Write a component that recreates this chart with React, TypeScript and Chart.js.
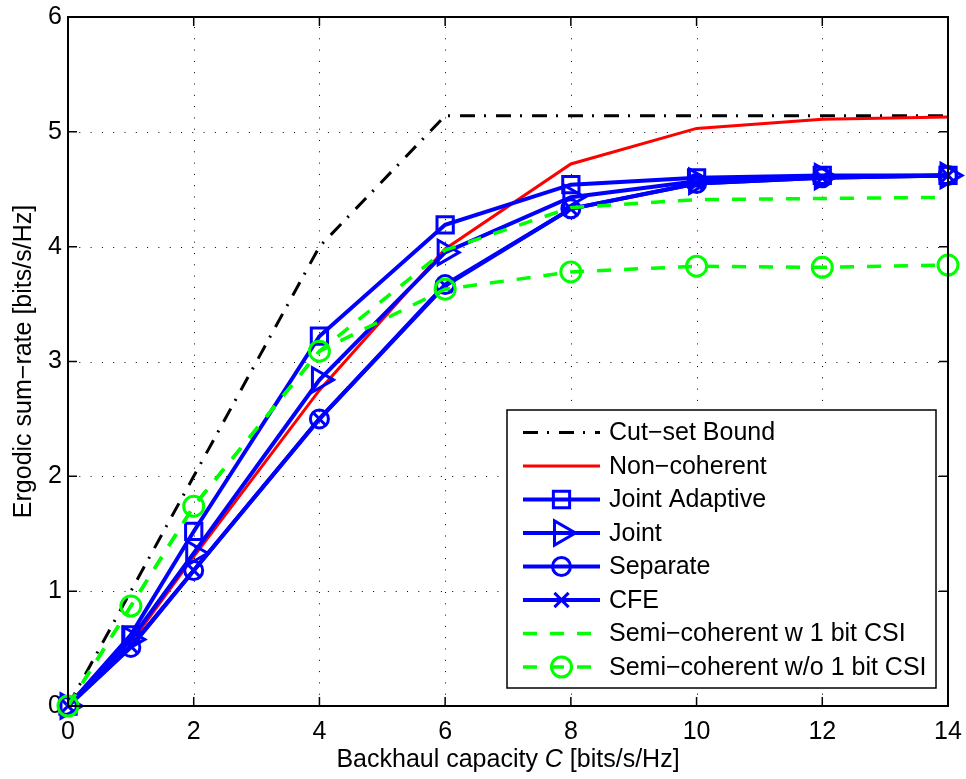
import React, { useEffect, useRef } from 'react';
import { Chart, registerables } from 'chart.js';

Chart.register(...registerables);

// ---------- data ----------
const backhaulC = [0, 1, 2, 4, 6, 8, 10, 12, 14];
const cutSetBound = [0, 1.0, 2.0, 4.0, 5.14, 5.14, 5.14, 5.14, 5.14];
const nonCoherent = [0, 0.55, 1.3, 2.75, 3.98, 4.72, 5.03, 5.11, 5.13];
const jointAdaptive = [0, 0.62, 1.52, 3.22, 4.19, 4.54, 4.6, 4.62, 4.62];
const joint = [0, 0.58, 1.33, 2.84, 3.95, 4.43, 4.57, 4.61, 4.62];
const separate = [0, 0.51, 1.18, 2.5, 3.67, 4.33, 4.55, 4.6, 4.62];
const cfe = [0, 0.52, 1.18, 2.5, 3.66, 4.33, 4.55, 4.6, 4.62];
const semiCoherentW = [0, 0.87, 1.74, 3.09, 3.97, 4.34, 4.41, 4.42, 4.43];
const semiCoherentWo = [0, 0.87, 1.74, 3.09, 3.63, 3.78, 3.83, 3.82, 3.84];

const xTicks = [0, 2, 4, 6, 8, 10, 12, 14];
const yTicks = [0, 1, 2, 3, 4, 5, 6];

const seriesLabels = [
  'Cut\u2212set Bound',
  'Non\u2212coherent',
  'Joint Adaptive',
  'Joint',
  'Separate',
  'CFE',
  'Semi\u2212coherent w 1 bit CSI',
  'Semi\u2212coherent w/o 1 bit CSI',
];
const yTitle = 'Ergodic sum\u2212rate [bits/s/Hz]';
const xTitleParts = ['Backhaul capacity ', 'C', ' [bits/s/Hz]'];

const FONT = '"Liberation Sans", Arial, Helvetica, sans-serif';

type Sty = {
  color: string;
  width: number;
  dash: number[];
  marker: string | false;
  radius: number;
  rotation: number;
};

const styles: Sty[] = [
  { color: '#000000', width: 3, dash: [15, 9, 2, 10], marker: false, radius: 0, rotation: 0 },
  { color: '#ff0000', width: 3, dash: [], marker: false, radius: 0, rotation: 0 },
  { color: '#0000ff', width: 4, dash: [], marker: 'rect', radius: 11.5, rotation: 0 },
  { color: '#0000ff', width: 4, dash: [], marker: 'triangle', radius: 14, rotation: 90 },
  { color: '#0000ff', width: 4, dash: [], marker: 'circle', radius: 9, rotation: 0 },
  { color: '#0000ff', width: 4, dash: [], marker: 'crossRot', radius: 10, rotation: 0 },
  { color: '#00ff00', width: 3.5, dash: [14, 13], marker: false, radius: 0, rotation: 0 },
  { color: '#00ff00', width: 3.5, dash: [14, 13], marker: 'circle', radius: 10, rotation: 0 },
];

const seriesValues = [
  cutSetBound,
  nonCoherent,
  jointAdaptive,
  joint,
  separate,
  cfe,
  semiCoherentW,
  semiCoherentWo,
];

function drawMarker(
  ctx: CanvasRenderingContext2D,
  kind: string,
  x: number,
  y: number,
  r: number,
  rotationDeg: number,
) {
  ctx.beginPath();
  if (kind === 'rect') {
    const s = r * Math.SQRT1_2;
    ctx.rect(x - s, y - s, 2 * s, 2 * s);
  } else if (kind === 'circle') {
    ctx.arc(x, y, r, 0, Math.PI * 2);
  } else if (kind === 'triangle') {
    let rad = (rotationDeg * Math.PI) / 180;
    ctx.moveTo(x + Math.sin(rad) * r, y - Math.cos(rad) * r);
    rad += (2 * Math.PI) / 3;
    ctx.lineTo(x + Math.sin(rad) * r, y - Math.cos(rad) * r);
    rad += (2 * Math.PI) / 3;
    ctx.lineTo(x + Math.sin(rad) * r, y - Math.cos(rad) * r);
    ctx.closePath();
  } else if (kind === 'crossRot') {
    const o = r * Math.SQRT1_2;
    ctx.moveTo(x - o, y - o);
    ctx.lineTo(x + o, y + o);
    ctx.moveTo(x + o, y - o);
    ctx.lineTo(x - o, y + o);
  }
  ctx.stroke();
}

const matlabPlugin = {
  id: 'matlabAxes',
  beforeDatasetsDraw(chart: any) {
    const ctx: CanvasRenderingContext2D = chart.ctx;
    const { left, right, top, bottom } = chart.chartArea;
    const xs = chart.scales.x;
    const ys = chart.scales.y;
    ctx.save();
    ctx.strokeStyle = '#000';
    ctx.lineWidth = 1;
    ctx.setLineDash([1, 10.3]);
    xTicks.forEach((v) => {
      const px = Math.round(xs.getPixelForValue(v)) + 0.5;
      if (v === xTicks[0] || v === xTicks[xTicks.length - 1]) return;
      ctx.beginPath();
      ctx.moveTo(px, bottom);
      ctx.lineTo(px, top);
      ctx.stroke();
    });
    yTicks.forEach((v) => {
      const py = Math.round(ys.getPixelForValue(v)) + 0.5;
      if (v === yTicks[0] || v === yTicks[yTicks.length - 1]) return;
      ctx.beginPath();
      ctx.moveTo(left, py);
      ctx.lineTo(right, py);
      ctx.stroke();
    });
    ctx.restore();
  },
  afterDraw(chart: any) {
    const ctx: CanvasRenderingContext2D = chart.ctx;
    const { left, right, top, bottom } = chart.chartArea;
    const xs = chart.scales.x;
    const ys = chart.scales.y;
    ctx.save();
    ctx.setLineDash([]);
    ctx.strokeStyle = '#000';
    // inward ticks
    ctx.lineWidth = 1.5;
    const tl = 9;
    xTicks.forEach((v) => {
      const px = xs.getPixelForValue(v);
      ctx.beginPath();
      ctx.moveTo(px, bottom);
      ctx.lineTo(px, bottom - tl);
      ctx.moveTo(px, top);
      ctx.lineTo(px, top + tl);
      ctx.stroke();
    });
    yTicks.forEach((v) => {
      const py = ys.getPixelForValue(v);
      ctx.beginPath();
      ctx.moveTo(left, py);
      ctx.lineTo(left + tl, py);
      ctx.moveTo(right, py);
      ctx.lineTo(right - tl, py);
      ctx.stroke();
    });
    // box
    ctx.lineWidth = 2;
    ctx.strokeRect(left, top, right - left, bottom - top);

    // axis titles
    ctx.fillStyle = '#000';
    ctx.font = `25px ${FONT}`;
    ctx.save();
    ctx.translate(31, (top + bottom) / 2);
    ctx.rotate(-Math.PI / 2);
    ctx.textAlign = 'center';
    ctx.textBaseline = 'alphabetic';
    ctx.fillText(yTitle, 0, 0);
    ctx.restore();

    const normal = `25px ${FONT}`;
    const italic = `italic 25px ${FONT}`;
    const fonts = [normal, italic, normal];
    let total = 0;
    const widths = xTitleParts.map((t, i) => {
      ctx.font = fonts[i];
      const w = ctx.measureText(t).width;
      total += w;
      return w;
    });
    let cx = (left + right) / 2 - total / 2;
    ctx.textAlign = 'left';
    ctx.textBaseline = 'alphabetic';
    xTitleParts.forEach((t, i) => {
      ctx.font = fonts[i];
      ctx.fillText(t, cx, 767);
      cx += widths[i];
    });

    // legend
    const lx0 = 507;
    const ly0 = 410;
    const lx1 = 936;
    const ly1 = 688;
    ctx.fillStyle = '#fff';
    ctx.fillRect(lx0, ly0, lx1 - lx0, ly1 - ly0);
    ctx.lineWidth = 1.5;
    ctx.strokeStyle = '#000';
    ctx.strokeRect(lx0, ly0, lx1 - lx0, ly1 - ly0);
    const rowH = 33.5;
    const firstY = 432.5;
    const sx0 = 523;
    const sx1 = 600;
    const mx = (sx0 + sx1) / 2;
    seriesLabels.forEach((label, i) => {
      const st = styles[i];
      const y = firstY + i * rowH;
      ctx.save();
      ctx.strokeStyle = st.color;
      ctx.lineWidth = st.width;
      ctx.setLineDash(st.dash);
      ctx.beginPath();
      ctx.moveTo(sx0, y);
      ctx.lineTo(sx1, y);
      ctx.stroke();
      ctx.setLineDash([]);
      if (st.marker) {
        ctx.lineWidth = 3;
        drawMarker(ctx, st.marker, mx, y, st.radius, st.rotation);
      }
      ctx.restore();
      ctx.fillStyle = '#000';
      ctx.font = `25px ${FONT}`;
      ctx.textAlign = 'left';
      ctx.textBaseline = 'middle';
      ctx.fillText(label, 609, y + 1);
    });
    ctx.restore();
  },
};

export default function App() {
  const canvasRef = useRef<HTMLCanvasElement | null>(null);

  useEffect(() => {
    const canvas = canvasRef.current;
    if (!canvas) return;
    const datasets = seriesValues.map((vals, i) => {
      const st = styles[i];
      return {
        label: seriesLabels[i],
        data: vals.map((v, j) => ({ x: backhaulC[j], y: v })),
        borderColor: st.color,
        backgroundColor: 'rgba(0,0,0,0)',
        borderWidth: st.width,
        borderDash: st.dash,
        pointStyle: st.marker || 'circle',
        pointRadius: st.marker ? st.radius : 0,
        pointHoverRadius: st.marker ? st.radius : 0,
        pointRotation: st.rotation,
        pointBorderColor: st.color,
        pointBackgroundColor: 'rgba(0,0,0,0)',
        pointBorderWidth: 3,
        tension: 0,
        fill: false,
        clip: false as any,
        order: seriesValues.length - i,
      };
    });

    const chart = new Chart(canvas, {
      type: 'line',
      data: { datasets },
      options: {
        responsive: false,
        animation: false,
        devicePixelRatio: 1,
        layout: { padding: { left: 0, right: 18, top: 13, bottom: 0 } },
        plugins: {
          legend: { display: false },
          tooltip: { enabled: false },
          title: { display: false },
        },
        scales: {
          x: {
            type: 'linear',
            min: 0,
            max: 14,
            afterBuildTicks: (scale: any) => {
              scale.ticks = xTicks.map((v) => ({ value: v }));
            },
            afterFit: (scale: any) => {
              scale.height = 73;
              scale.paddingLeft = 0;
              scale.paddingRight = 0;
            },
            grid: { display: false, drawTicks: false },
            border: { display: false },
            ticks: {
              color: '#000',
              font: { size: 25, family: FONT },
              padding: 11,
              maxRotation: 0,
              autoSkip: false,
            },
          },
          y: {
            type: 'linear',
            min: 0,
            max: 6,
            afterBuildTicks: (scale: any) => {
              scale.ticks = yTicks.map((v) => ({ value: v }));
            },
            afterFit: (scale: any) => {
              scale.width = 68;
              scale.paddingTop = 0;
              scale.paddingBottom = 0;
            },
            grid: { display: false, drawTicks: false },
            border: { display: false },
            ticks: {
              color: '#000',
              font: { size: 25, family: FONT },
              padding: 6,
              autoSkip: false,
            },
          },
        },
      },
      plugins: [matlabPlugin],
    });
    return () => chart.destroy();
  }, []);

  return (
    <div style={{ position: 'absolute', left: 0, top: 0, width: 966, height: 779, background: '#fff' }}>
      <canvas ref={canvasRef} width={966} height={779} style={{ display: 'block' }} />
    </div>
  );
}
